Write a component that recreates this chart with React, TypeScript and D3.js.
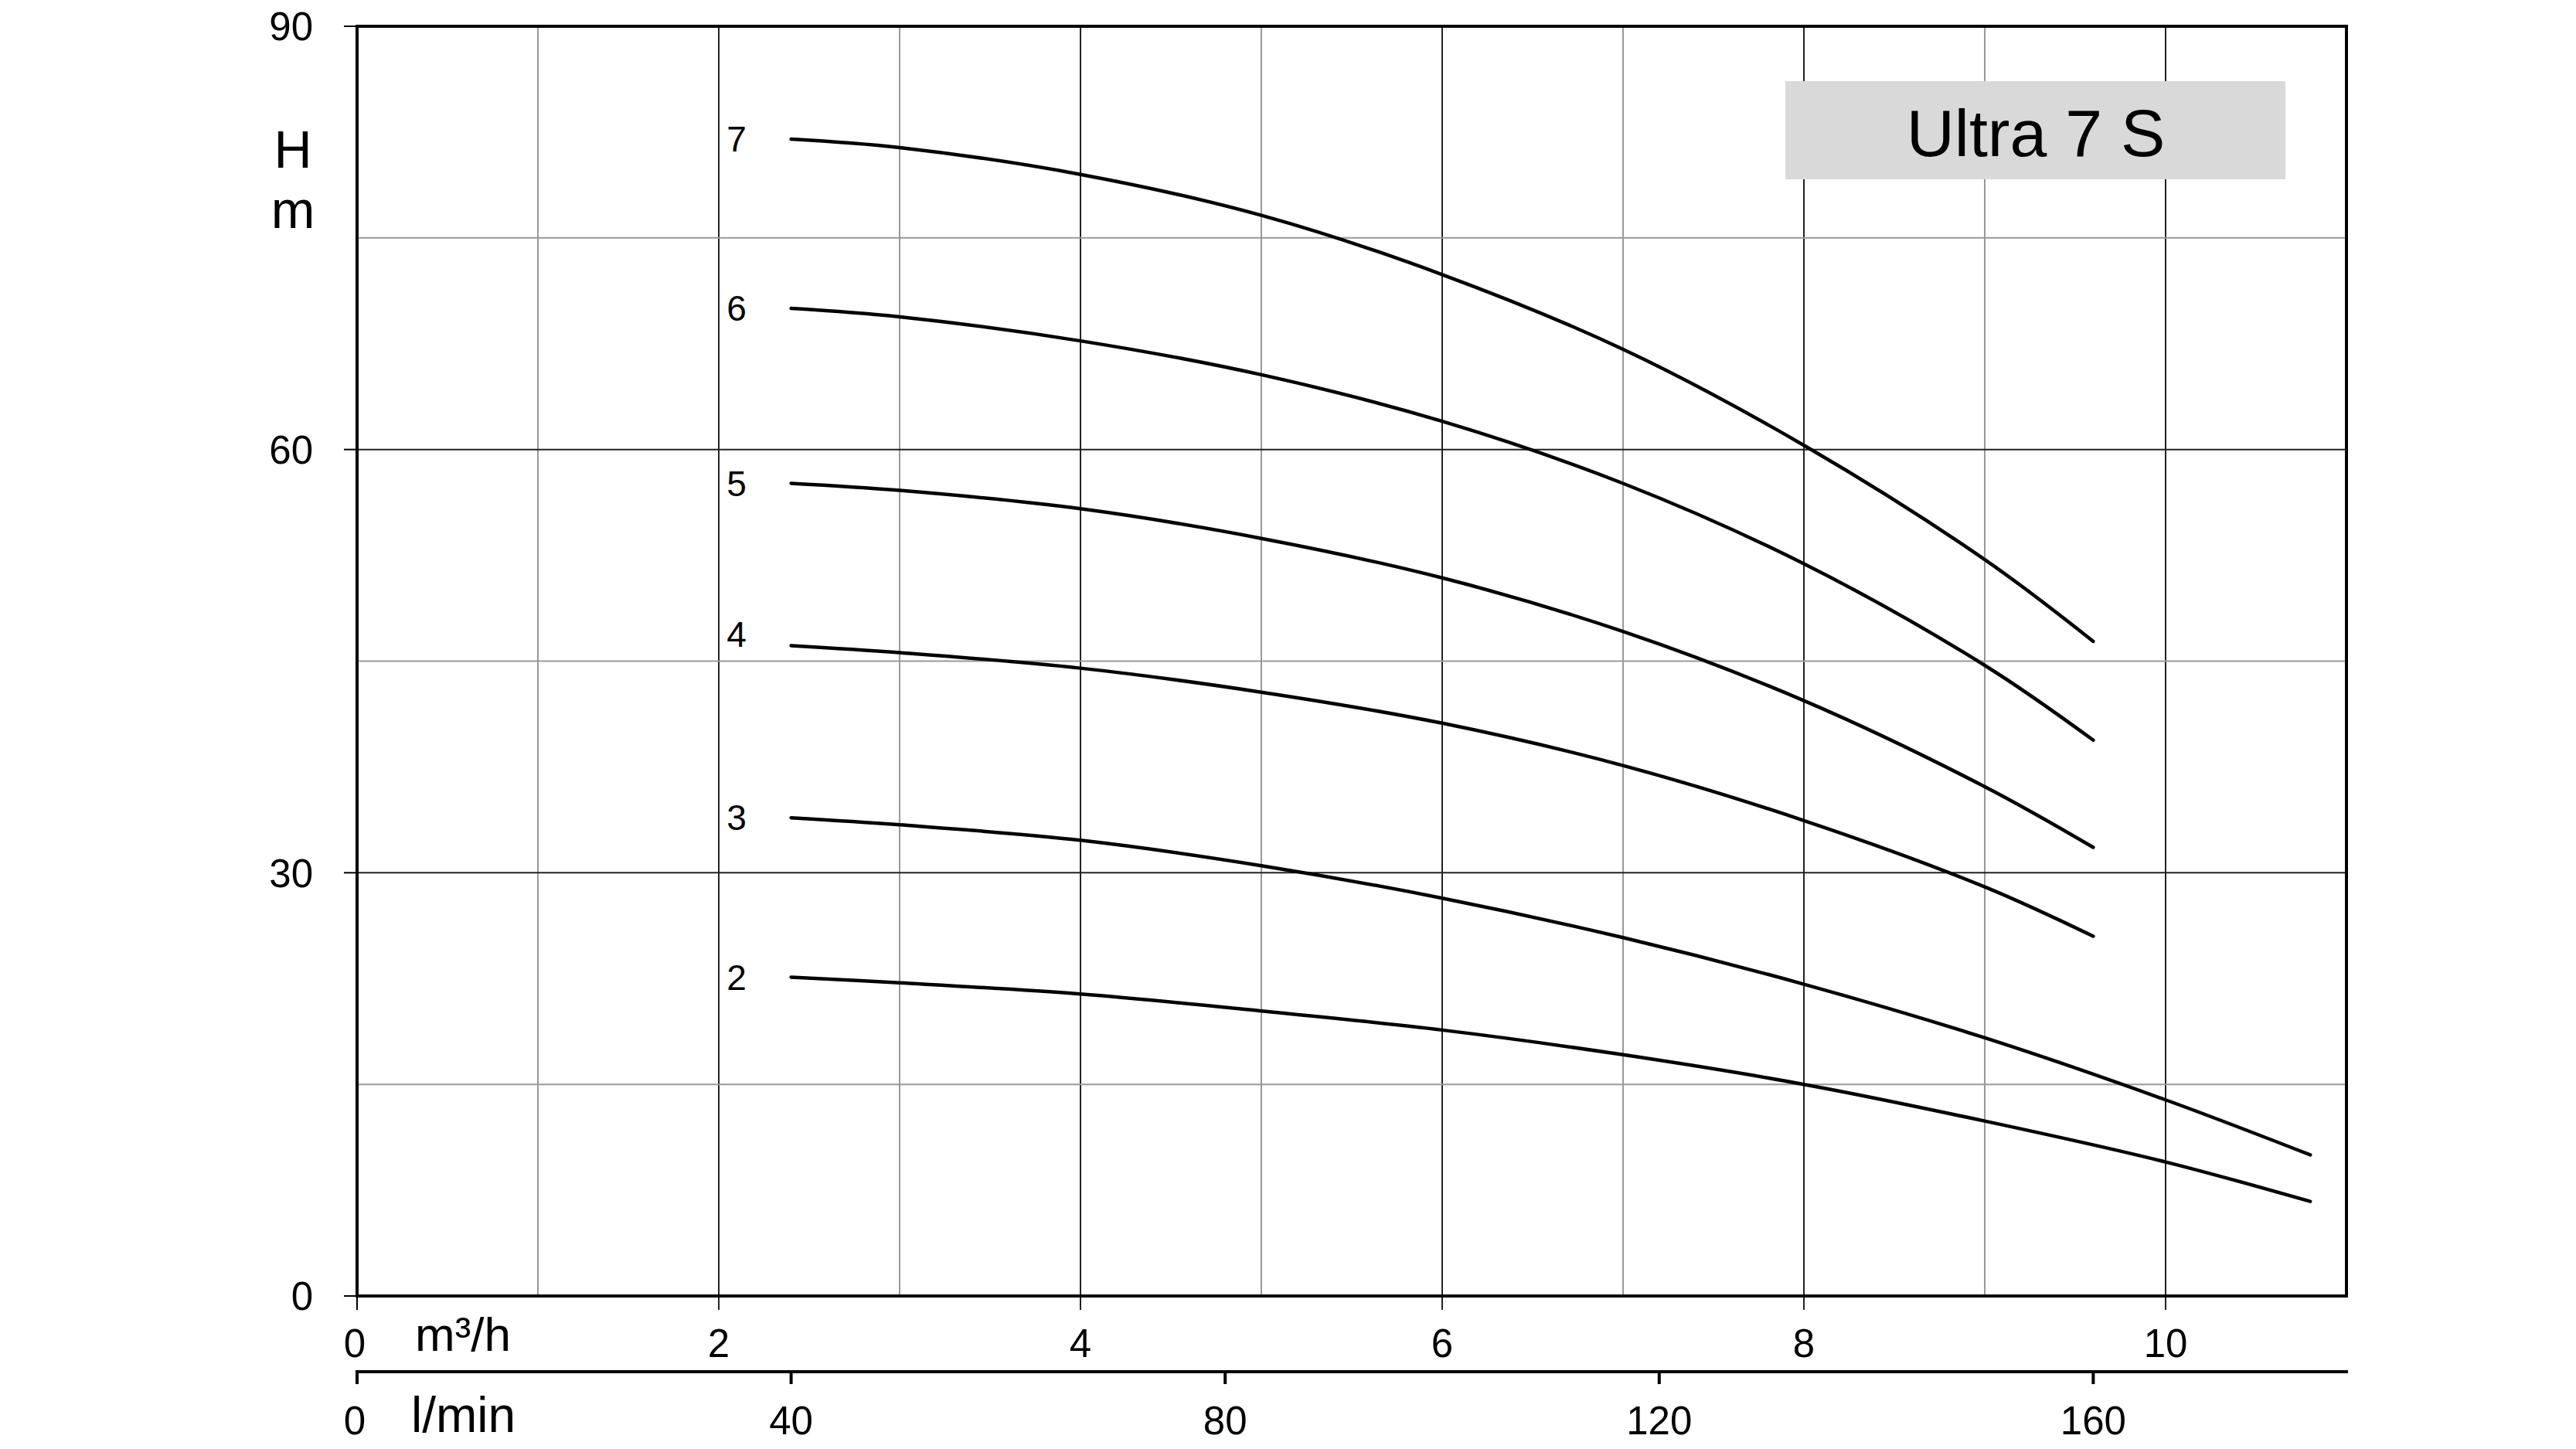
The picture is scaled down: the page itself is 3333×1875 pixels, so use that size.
import * as d3 from "d3";

// flow points in m³/h (40..160 l/min and 40..180 l/min)
const flowShort = [2.4, 3, 4, 5, 6, 7, 8, 9, 9.6];
const flowLong = [2.4, 3, 4, 5, 6, 7, 8, 9, 10, 10.8];

const head7 = [82.0, 81.4, 79.5, 76.6, 72.4, 67.1, 60.3, 52.2, 46.4];
const head6 = [70.0, 69.4, 67.7, 65.3, 62.0, 57.6, 51.9, 44.7, 39.4];
const head5 = [57.6, 57.1, 55.8, 53.7, 50.9, 47.1, 42.2, 36.1, 31.8];
const head4 = [46.1, 45.6, 44.5, 42.8, 40.6, 37.6, 33.7, 29.0, 25.5];
const head3 = [33.9, 33.4, 32.3, 30.5, 28.2, 25.4, 22.1, 18.3, 13.9, 10.0];
const head2 = [22.6, 22.2, 21.4, 20.2, 18.85, 17.1, 15.0, 12.4, 9.5, 6.7];

const curveNames = ["7", "6", "5", "4", "3", "2"];

const yTicks = [0, 30, 60, 90];
const yGrid = [15, 30, 45, 60, 75];
const m3hTicks = [0, 2, 4, 6, 8, 10];
const m3hGrid = [1, 2, 3, 4, 5, 6, 7, 8, 9, 10];
const lminTicks = [0, 40, 80, 120, 160];

const title = "Ultra 7 S";

const W = 3333;
const H = 1875;
const left = 462;
const right = 3036;
const top = 34;
const bottom = 1677;
const font = "'Liberation Sans', Arial, sans-serif";

export default function App() {
  const x = d3.scaleLinear().domain([0, 11]).range([left, right]);
  const xl = d3.scaleLinear().domain([0, (11 * 1000) / 60]).range([left, right]);
  const y = d3.scaleLinear().domain([0, 90]).range([bottom, top]);

  const series = [
    { name: curveNames[0], flow: flowShort, head: head7 },
    { name: curveNames[1], flow: flowShort, head: head6 },
    { name: curveNames[2], flow: flowShort, head: head5 },
    { name: curveNames[3], flow: flowShort, head: head4 },
    { name: curveNames[4], flow: flowLong, head: head3 },
    { name: curveNames[5], flow: flowLong, head: head2 },
  ];

  const line = d3
    .line<[number, number]>()
    .x((d) => x(d[0]))
    .y((d) => y(d[1]))
    .curve(d3.curveCatmullRom.alpha(0.5));

  const lminY = 1775;

  return (
    <svg
      width={W}
      height={H}
      style={{ position: "absolute", left: 0, top: 0, background: "#fff" }}
      fontFamily={font}
    >
      {/* grid */}
      {m3hGrid.map((v) => (
        <line
          key={"gx" + v}
          x1={x(v)}
          x2={x(v)}
          y1={top}
          y2={v % 2 === 0 ? bottom + 18 : bottom}
          stroke={v % 2 === 0 ? "#222" : "#999"}
          strokeWidth={2}
        />
      ))}
      {yGrid.map((v) => (
        <line
          key={"gy" + v}
          x1={left}
          x2={right}
          y1={y(v)}
          y2={y(v)}
          stroke={v % 30 === 0 ? "#222" : "#999"}
          strokeWidth={2}
        />
      ))}

      {/* title box */}
      <rect x={2310} y={105} width={647} height={127} fill="#d9d9d9" />
      <text x={2634} y={202} fontSize={86} textAnchor="middle" fill="#000">
        {title}
      </text>

      {/* curves */}
      {series.map((s) => (
        <path
          key={s.name}
          d={line(s.flow.map((f, i) => [f, s.head[i]] as [number, number])) || ""}
          fill="none"
          stroke="#000"
          strokeWidth={4.5}
          strokeLinecap="round"
        />
      ))}
      {series.map((s) => (
        <text
          key={"l" + s.name}
          x={953}
          y={y(s.head[0]) + (s.name === "4" ? -15 : 0)}
          dy="0.35em"
          fontSize={46}
          textAnchor="middle"
        >
          {s.name}
        </text>
      ))}

      {/* frame */}
      <rect
        x={left}
        y={top}
        width={right - left}
        height={bottom - top}
        fill="none"
        stroke="#000"
        strokeWidth={4}
      />
      <line x1={left} x2={left} y1={bottom} y2={bottom + 18} stroke="#000" strokeWidth={2} />

      {/* y axis */}
      {yTicks.map((v) => (
        <g key={"yt" + v}>
          <line x1={left - 17} x2={left} y1={y(v)} y2={y(v)} stroke="#000" strokeWidth={2} />
          <text x={405} y={y(v)} dy="0.36em" fontSize={51} textAnchor="end">
            {v}
          </text>
        </g>
      ))}
      <text x={379} y={217} fontSize={68} textAnchor="middle">
        H
      </text>
      <text x={379} y={295} fontSize={68} textAnchor="middle">
        m
      </text>

      {/* m³/h axis */}
      {m3hTicks.map((v) => (
        <text key={"xt" + v} x={x(v) - (v === 0 ? 3 : 0)} y={1756} fontSize={51} textAnchor="middle">
          {v}
        </text>
      ))}
      <text x={537} y={1748} fontSize={62}>
        m³/h
      </text>

      {/* l/min axis */}
      <line x1={left - 2} x2={right + 2} y1={lminY} y2={lminY} stroke="#000" strokeWidth={4} />
      {lminTicks.map((v) => (
        <g key={"lt" + v}>
          <line x1={xl(v)} x2={xl(v)} y1={lminY} y2={lminY + 16} stroke="#000" strokeWidth={4} />
          <text x={xl(v) - (v === 0 ? 3 : 0)} y={1856} fontSize={51} textAnchor="middle">
            {v}
          </text>
        </g>
      ))}
      <text x={532} y={1853} fontSize={64}>
        l/min
      </text>
    </svg>
  );
}
